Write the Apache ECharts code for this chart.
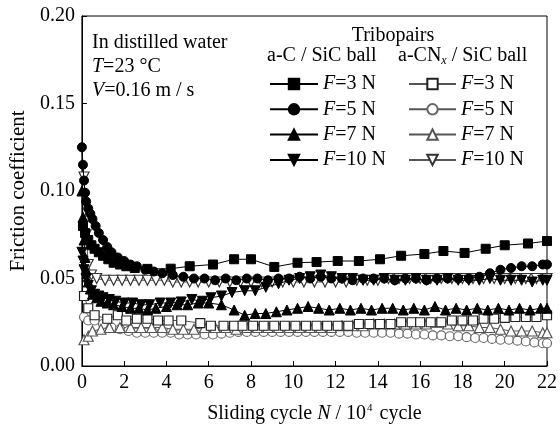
<!DOCTYPE html>
<html><head><meta charset="utf-8">
<script src="https://cdn.jsdelivr.net/npm/echarts@6/dist/echarts.min.js"></script>
<style>html,body{margin:0;padding:0;background:#fff}#c{width:560px;height:432px}</style>
</head><body><div id="c"></div>
<script>
const xTickInterval = 2;
const yTickInterval = 0.05;
// a-C / SiC ball
const acF3 = [[0.05,0.080],[0.15,0.076],[0.3,0.072],[0.45,0.069],[0.6,0.067],[0.8,0.065],[1.0,0.063],[1.25,0.061],[1.5,0.059],[1.8,0.058],[2.1,0.057],[2.5,0.056],[3.1,0.0555],[4.2,0.0556],[5.1,0.057],[6.2,0.058],[7.2,0.061],[8.0,0.061],[9.1,0.0566],[10.2,0.059],[11.1,0.0594],[12.1,0.060],[13.1,0.060],[14.1,0.061],[15.1,0.063],[16.2,0.064],[17.1,0.0657],[18.1,0.0646],[19.1,0.067],[20.0,0.069],[21.1,0.070],[22.0,0.0714]];
const acF5 = [[0,0.125],[0.05,0.115],[0.1,0.106],[0.15,0.099],[0.2,0.094],[0.3,0.090],[0.4,0.087],[0.5,0.084],[0.65,0.080],[0.8,0.076],[1.0,0.072],[1.2,0.068],[1.4,0.065],[1.7,0.062],[2.0,0.060],[2.3,0.058],[2.6,0.057],[3.0,0.055],[3.4,0.054],[3.8,0.053],[4.3,0.052],[4.8,0.051],[5.3,0.050],[5.8,0.050],[6.3,0.049],[6.8,0.050],[7.3,0.049],[7.8,0.050],[8.3,0.050],[8.8,0.049],[9.3,0.050],[9.8,0.050],[10.3,0.051],[10.8,0.050],[11.3,0.051],[11.8,0.050],[12.3,0.050],[12.8,0.049],[13.3,0.050],[13.8,0.050],[14.3,0.050],[14.8,0.049],[15.3,0.050],[15.8,0.050],[16.3,0.049],[16.8,0.050],[17.3,0.050],[17.8,0.050],[18.3,0.050],[18.8,0.051],[19.3,0.053],[19.8,0.055],[20.3,0.056],[20.8,0.057],[21.3,0.057],[21.8,0.058],[22.0,0.058]];
const acF7 = [[0,0.100],[0.05,0.085],[0.1,0.072],[0.15,0.062],[0.2,0.055],[0.3,0.048],[0.4,0.044],[0.5,0.041],[0.7,0.039],[0.9,0.037],[1.2,0.036],[1.5,0.035],[1.9,0.034],[2.3,0.033],[2.7,0.033],[3.1,0.032],[3.5,0.033],[4.0,0.034],[4.5,0.035],[5.0,0.035],[5.5,0.036],[6.0,0.036],[6.6,0.035],[7.2,0.032],[7.7,0.029],[8.2,0.030],[8.7,0.030],[9.2,0.031],[9.7,0.032],[10.2,0.033],[10.7,0.034],[11.2,0.033],[11.7,0.032],[12.2,0.033],[12.7,0.032],[13.2,0.033],[13.7,0.032],[14.2,0.033],[14.7,0.033],[15.2,0.032],[15.7,0.033],[16.2,0.032],[16.7,0.034],[17.2,0.032],[17.7,0.033],[18.2,0.032],[18.7,0.033],[19.2,0.032],[19.7,0.033],[20.2,0.032],[20.7,0.033],[21.2,0.032],[21.7,0.033],[22.0,0.033]];
const acF10 = [[0,0.065],[0.05,0.060],[0.1,0.055],[0.2,0.050],[0.3,0.046],[0.45,0.043],[0.6,0.041],[0.8,0.040],[1.0,0.039],[1.3,0.038],[1.6,0.037],[2.0,0.036],[2.4,0.036],[2.8,0.035],[3.2,0.035],[3.7,0.036],[4.2,0.036],[4.7,0.0366],[5.2,0.038],[5.7,0.037],[6.1,0.039],[6.6,0.040],[7.1,0.042],[7.7,0.043],[8.2,0.043],[8.7,0.045],[9.3,0.047],[9.8,0.049],[10.3,0.050],[10.8,0.051],[11.3,0.052],[11.8,0.051],[12.3,0.050],[12.8,0.050],[13.3,0.049],[13.8,0.049],[14.3,0.050],[14.8,0.049],[15.3,0.049],[15.8,0.050],[16.3,0.049],[16.8,0.049],[17.3,0.050],[17.8,0.049],[18.3,0.049],[18.8,0.049],[19.3,0.050],[19.8,0.049],[20.3,0.049],[20.8,0.049],[21.3,0.048],[21.8,0.049],[22.0,0.049]];
// a-CNx / SiC ball
const anF3 = [[0.1,0.040],[0.3,0.033],[0.6,0.029],[1.2,0.027],[1.7,0.029],[2.1,0.026],[2.6,0.027],[3.1,0.027],[3.6,0.026],[4.1,0.026],[4.7,0.026],[5.6,0.0245],[6.1,0.023],[6.7,0.023],[7.2,0.023],[7.6,0.023],[8.1,0.023],[8.6,0.023],[9.1,0.023],[9.6,0.023],[10.1,0.023],[10.6,0.023],[11.1,0.023],[11.6,0.023],[12.1,0.023],[12.6,0.023],[13.1,0.024],[13.6,0.024],[14.1,0.024],[14.6,0.024],[15.1,0.025],[15.6,0.025],[16.0,0.025],[16.5,0.025],[17.0,0.025],[17.5,0.026],[18.0,0.026],[18.5,0.026],[19.0,0.027],[19.5,0.027],[20.0,0.0275],[20.5,0.028],[21.0,0.028],[21.5,0.028],[22.0,0.029]];
const anF5 = [[0.1,0.028],[0.3,0.026],[0.6,0.026],[1.0,0.024],[1.4,0.022],[1.8,0.021],[2.2,0.020],[2.6,0.019],[3.0,0.019],[3.4,0.019],[3.8,0.019],[4.2,0.019],[4.6,0.018],[5.0,0.018],[5.4,0.018],[5.8,0.018],[6.2,0.018],[6.6,0.0185],[7.0,0.019],[7.4,0.0195],[7.8,0.0195],[8.2,0.0195],[8.6,0.0195],[9.0,0.0195],[9.4,0.0195],[9.8,0.0195],[10.2,0.0195],[10.6,0.0195],[11.0,0.0195],[11.4,0.0195],[11.8,0.0195],[12.2,0.0195],[12.6,0.0195],[13.0,0.019],[13.4,0.019],[13.8,0.019],[14.2,0.019],[14.6,0.019],[15.0,0.0185],[15.4,0.0185],[15.8,0.018],[16.2,0.018],[16.6,0.0175],[17.0,0.0175],[17.4,0.017],[17.8,0.017],[18.2,0.0165],[18.6,0.016],[19.0,0.016],[19.4,0.0155],[19.8,0.015],[20.2,0.015],[20.6,0.0145],[21.0,0.014],[21.4,0.0135],[21.8,0.013],[22.0,0.013]];
const anF7 = [[0.1,0.015],[0.3,0.017],[0.5,0.020],[0.9,0.021],[1.3,0.022],[1.8,0.022],[2.3,0.022],[2.8,0.022],[3.3,0.022],[3.8,0.022],[4.3,0.021],[4.8,0.021],[5.3,0.021],[5.8,0.022],[6.3,0.022],[6.8,0.022],[7.3,0.021],[7.8,0.022],[8.3,0.022],[8.8,0.022],[9.3,0.022],[9.8,0.022],[10.3,0.022],[10.8,0.022],[11.3,0.022],[11.8,0.022],[12.3,0.023],[12.8,0.023],[13.3,0.023],[13.8,0.024],[14.3,0.024],[14.8,0.024],[15.3,0.024],[15.8,0.024],[16.3,0.024],[16.8,0.025],[17.3,0.024],[17.8,0.023],[18.3,0.023],[18.8,0.022],[19.3,0.022],[19.8,0.021],[20.3,0.020],[20.8,0.020],[21.3,0.020],[21.8,0.019],[22.0,0.019]];
const anF10 = [[0.1,0.108],[0.2,0.075],[0.3,0.058],[0.45,0.052],[0.7,0.050],[1.1,0.049],[1.5,0.049],[1.9,0.049],[2.3,0.049],[2.7,0.049],[3.1,0.049],[3.5,0.049],[3.9,0.049],[4.3,0.048],[4.7,0.048],[5.1,0.048],[5.5,0.048],[6.0,0.048],[6.5,0.048],[7.0,0.048],[7.5,0.048],[8.0,0.048],[8.5,0.048],[9.0,0.048],[9.5,0.048],[10.0,0.048],[10.5,0.048],[11.0,0.048],[11.5,0.048],[12.0,0.048],[12.5,0.048],[13.0,0.049],[13.5,0.049],[14.0,0.049],[14.5,0.050],[15.0,0.050],[15.5,0.050],[16.0,0.050],[16.5,0.050],[17.0,0.050],[17.5,0.050],[18.0,0.050],[18.5,0.050],[19.0,0.050],[19.5,0.050],[20.0,0.050],[20.5,0.050],[21.0,0.050],[21.5,0.050],[22.0,0.050]];

const legendLabels = {aC3:'3',aC5:'5',aC7:'7',aC10:'10',aN3:'3',aN5:'5',aN7:'7',aN10:'10'};
const FONT = '"Liberation Serif", "Times New Roman", serif';

function filled(name, data, symbol, size, rot) {
  return {name, type:'line', data, symbol, symbolSize:size, symbolRotate:rot||0,
    lineStyle:{color:'#000', width:1}, itemStyle:{color:'#000', borderColor:'#000', borderWidth:1},
    z:3, animation:false};
}
function open(name, data, symbol, size, rot, col) {
  return {name, type:'line', data, symbol, symbolSize:size, symbolRotate:rot||0,
    lineStyle:{color:'#555', width:1}, itemStyle:{color:'#fff', borderColor:col, borderWidth:1.2},
    z:2, animation:false};
}
const legendText = {
  fontFamily: FONT, fontSize: 20, color:'#000', lineHeight:22,
  rich:{ i:{fontFamily:FONT, fontSize:20, fontStyle:'italic', color:'#000', lineHeight:22}, r:{fontFamily:FONT, fontSize:20, color:'#000', lineHeight:22} }
};
const chart = echarts.init(document.getElementById('c'), null, {renderer:'canvas'});
chart.setOption({
  animation:false,
  backgroundColor:'#fff',
  grid:{left:78, right:7, top:16, bottom:66, show:true, borderColor:'#000', borderWidth:1, backgroundColor:'transparent'},
  xAxis:{type:'value', min:0, max:22, interval:xTickInterval,
    axisLine:{show:true, lineStyle:{color:'#000', width:1}},
    axisTick:{show:true, inside:true, length:5, lineStyle:{color:'#000'}},
    splitLine:{show:false},
    axisLabel:{color:'#000', fontFamily:FONT, fontSize:20, margin:7},
    name:'{r|Sliding cycle }{i|N}{r| / 10}{s|4}{r| cycle}', nameLocation:'middle', nameGap:37,
    nameTextStyle:{rich:{r:{fontFamily:FONT, fontSize:20, color:'#000', lineHeight:22},
      i:{fontFamily:FONT, fontSize:20, fontStyle:'italic', color:'#000', lineHeight:22},
      s:{fontFamily:FONT, fontSize:11, color:'#000', verticalAlign:'top', lineHeight:22, padding:[0,2,0,1]}}}
  },
  yAxis:{type:'value', min:0, max:0.2, interval:yTickInterval,
    axisLine:{show:true, lineStyle:{color:'#000', width:1}},
    axisTick:{show:true, inside:true, length:5, lineStyle:{color:'#000'}},
    splitLine:{show:false},
    axisLabel:{color:'#000', fontFamily:FONT, fontSize:20, margin:7, formatter:v=>v.toFixed(2)},
    name:'Friction coefficient', nameLocation:'middle', nameGap:50,
    nameTextStyle:{fontFamily:FONT, fontSize:21, color:'#000'}
  },
  legend:[
    {data:['aC3','aC5','aC7','aC10'], orient:'vertical', left:269, top:73, padding:0,
     itemWidth:48, itemHeight:13, itemGap:3.3, textStyle:legendText,
     formatter:n=>'{i|F}{r|=' + legendLabels[n] + ' N}'},
    {data:['aN3','aN5','aN7','aN10'], orient:'vertical', left:408, top:73, padding:0,
     itemWidth:47, itemHeight:13, itemGap:3.3, textStyle:legendText,
     formatter:n=>'{i|F}{r|=' + legendLabels[n] + ' N}'}
  ],
  graphic:[
    {type:'text', left:92, top:33, style:{text:'In distilled water', font:'20px '+FONT, fill:'#000'}},
    {type:'text', left:92, top:57, style:{text:'{i|T}{r|=23 °C}', fill:'#000',
      rich:{i:{fontFamily:FONT, fontSize:20, fontStyle:'italic'}, r:{fontFamily:FONT, fontSize:20}}}},
    {type:'text', left:92, top:81, style:{text:'{i|V}{r|=0.16 m / s}', fill:'#000',
      rich:{i:{fontFamily:FONT, fontSize:20, fontStyle:'italic'}, r:{fontFamily:FONT, fontSize:20}}}},
    {type:'text', x:393, y:36, style:{text:'Tribopairs', font:'20px '+FONT, fill:'#000', align:'center', verticalAlign:'middle'}},
    {type:'text', left:267, top:46, style:{text:'a-C / SiC ball', font:'20px '+FONT, fill:'#000'}},
    {type:'text', left:398, top:46, style:{text:'{r|a-CN}{s|x}{r| / SiC ball}', fill:'#000',
      rich:{r:{fontFamily:FONT, fontSize:20, lineHeight:22}, s:{fontFamily:FONT, fontSize:12, fontStyle:'italic', verticalAlign:'bottom', lineHeight:22}}}}
  ],
  series:[
    open('aN5', anF5, 'circle', 9, 0, '#666'),
    open('aN7', anF7, 'triangle', 10, 0, '#555'),
    open('aN3', anF3, 'rect', 9, 0, '#222'),
    open('aN10', anF10, 'triangle', 10, 180, '#333'),
    filled('aC7', acF7, 'triangle', 10, 0),
    filled('aC10', acF10, 'triangle', 10, 180),
    filled('aC5', acF5, 'circle', 9, 0),
    filled('aC3', acF3, 'rect', 9, 0)
  ]
});
</script></body></html>
